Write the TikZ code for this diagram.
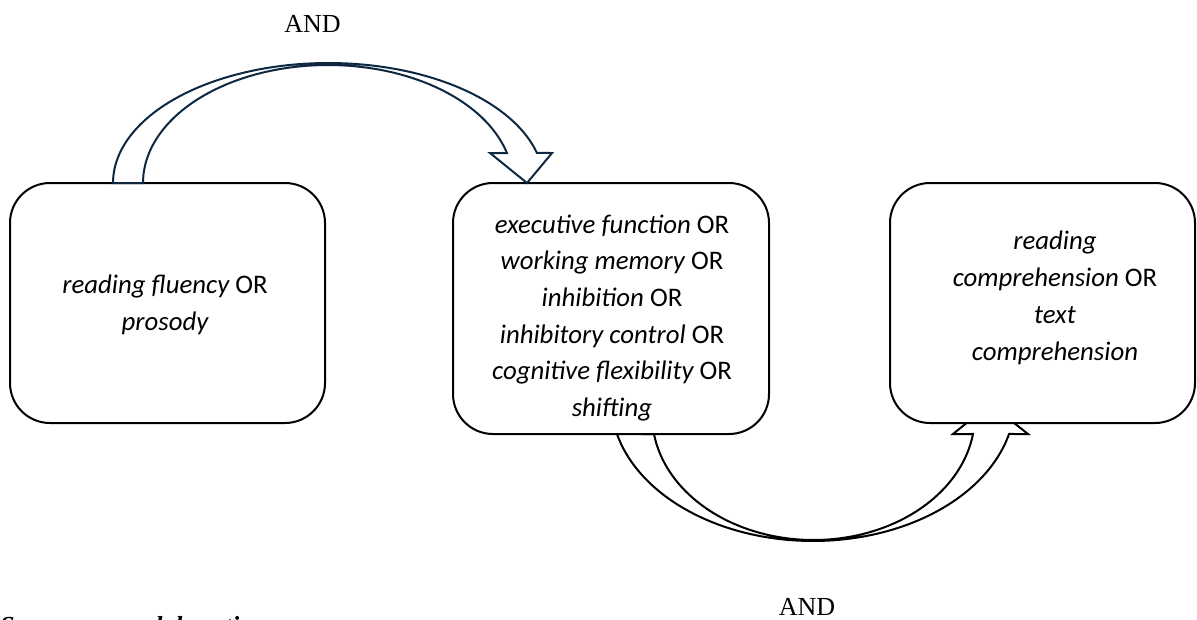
\documentclass[tikz,border=0pt]{standalone}
\usepackage{fontspec}
\setmainfont{Liberation Serif}
\newfontfamily\calfont{Carlito}
\usetikzlibrary{calc}
\pgfdeclarelayer{background}
\pgfsetlayers{background,main}
\definecolor{navy}{HTML}{0E2841}
\tikzset{
  boxnode/.style={draw=black, line width=2pt, fill=white, rounded corners=40pt,
    rectangle, inner sep=0pt},
  blockarrow/.style={line width=2pt, fill=white, line join=miter},
  boxtext/.style={font=\calfont\fontsize{26.8}{36.7}\selectfont, align=center, anchor=base, inner sep=0pt},
  andlabel/.style={font=\fontsize{26}{30}\selectfont, anchor=base, inner sep=0pt},
}
\begin{document}
\begin{tikzpicture}[x=1pt,y=-1pt]
\useasboundingbox (0,0) rectangle (1197,619);
\clip (0,0) rectangle (1197,619);
\begin{pgfonlayer}{background}
\fill[white] (0,0) rectangle (1197,619);
\end{pgfonlayer}

% boxes
\node[boxnode, minimum width=315pt, minimum height=240pt] (b1) at (167.5,303) {};
\node[boxnode, minimum width=316pt, minimum height=251pt] (b2) at (611,308.5) {};
\node[boxnode, minimum width=305pt, minimum height=240pt] (b3) at (1042.5,303) {};

% texts (base anchor = last line baseline)
\node[boxtext] (t1) at (165,330) {\itshape reading fluency\upshape{} OR\\ \itshape prosody};
\node[boxtext] (t2) at (612,416.5) {\itshape executive function\upshape{} OR\\
  \itshape working memory\upshape{} OR\\
  \itshape inhibition\upshape{} OR\\
  \itshape inhibitory control\upshape{} OR\\
  \itshape cognitive flexibility\upshape{} OR\\
  \itshape shifting};
\node[boxtext] (t3) at (1055,360) {\itshape reading\\
  \itshape comprehension\upshape{} OR\\
  \itshape text\\
  \itshape comprehension};

% labels
\node[andlabel] (and1) at (312.5,32) {AND};
\node[andlabel] (and2) at (807,615) {AND};
\node[andlabel, anchor=base west] (src) at (0,634) {\bfseries\itshape Source: own elaboration};

% top curved arrow (from b1 to b2)
\draw[blockarrow, draw=navy]
  plot[domain=180:14.5, samples=80, variable=\t] ({328.4+215.4*cos(\t)}, {183-120*sin(\t)})
  -- (552,153) -- (527,183) -- (490,153)
  -- plot[domain=14.73:180, samples=80, variable=\t] ({328+185*cos(\t)}, {183-118*sin(\t)})
  -- cycle;

% bottom curved arrow (from b2 to b3), behind boxes
\begin{pgfonlayer}{background}
\draw[blockarrow, draw=black]
  plot[domain=193.95:346.05, samples=80, variable=\t] ({813+202*cos(\t)}, {400-141*sin(\t)})
  -- (1028,434) -- (990,404) -- (953,434)
  -- plot[domain=351.26:188.74, samples=80, variable=\t] ({813.5+161.4*cos(\t)}, {415-125*sin(\t)})
  -- cycle;
\end{pgfonlayer}
\end{tikzpicture}
\end{document}
